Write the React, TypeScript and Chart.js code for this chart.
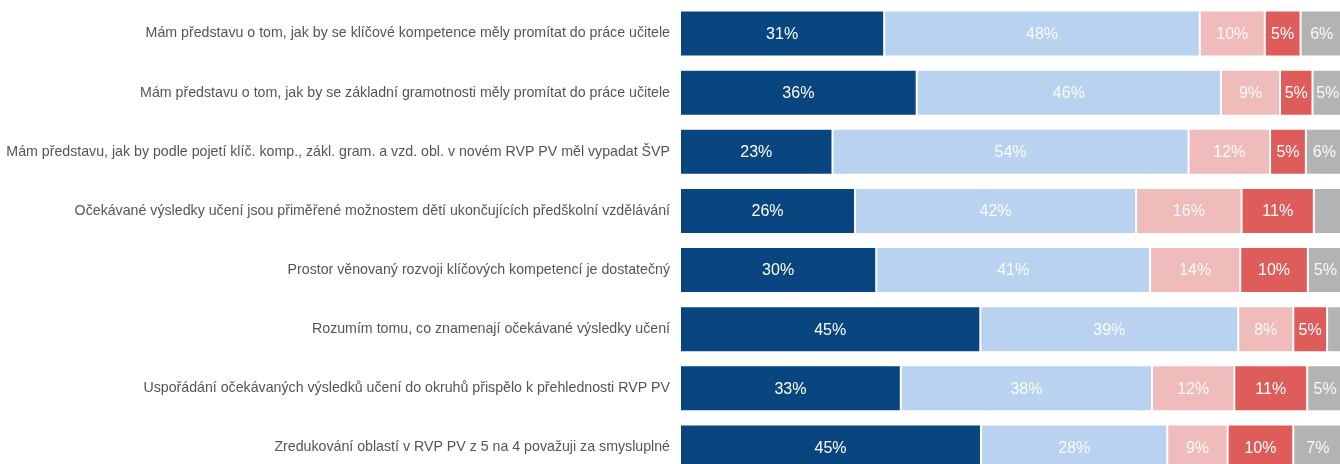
import React, { useEffect, useRef } from "react";
import { Chart, registerables } from "chart.js";

Chart.register(...registerables);

const categories = [
  "Mám představu o tom, jak by se klíčové kompetence měly promítat do práce učitele",
  "Mám představu o tom, jak by se základní gramotnosti měly promítat do práce učitele",
  "Mám představu, jak by podle pojetí klíč. komp., zákl. gram. a vzd. obl. v novém RVP PV měl vypadat ŠVP",
  "Očekávané výsledky učení jsou přiměřené možnostem dětí ukončujících předškolní vzdělávání",
  "Prostor věnovaný rozvoji klíčových kompetencí je dostatečný",
  "Rozumím tomu, co znamenají očekávané výsledky učení",
  "Uspořádání očekávaných výsledků učení do okruhů přispělo k přehlednosti RVP PV",
  "Zredukování oblastí v RVP PV z 5 na 4 považuji za smysluplné",
];

const series1 = [30.8, 35.7, 23.0, 26.4, 29.6, 45.3, 33.3, 45.4];
const series2 = [47.6, 45.9, 53.7, 42.4, 41.3, 38.9, 37.9, 28.1];
const series3 = [9.8, 8.9, 12.3, 15.9, 13.6, 8.3, 12.4, 9.1];
const series4 = [5.4, 4.9, 5.4, 10.9, 10.2, 5.1, 11.0, 9.9];
const series5 = [6.4, 4.6, 5.6, 4.4, 5.3, 2.4, 5.4, 7.4];

const seriesNames = ["Rozhodně ano", "Spíše ano", "Spíše ne", "Rozhodně ne", "Nevím"];
const seriesColors = ["#09467F", "#B8D2F0", "#F0BBBB", "#DE5D5A", "#B3B3B3"];

const labelPlugin = {
  id: "segLabels",
  afterDatasetsDraw(chart: any) {
    const ctx = chart.ctx;
    ctx.save();
    ctx.font = "16px 'Liberation Sans', Arial, sans-serif";
    ctx.textAlign = "center";
    ctx.textBaseline = "middle";
    chart.data.datasets.forEach((ds: any, di: number) => {
      const meta = chart.getDatasetMeta(di);
      meta.data.forEach((el: any, i: number) => {
        const v = ds.data[i];
        const r = Math.round(v);
        if (r < 5) return;
        const cx = (el.x + el.base) / 2;
        ctx.fillStyle = di === 0 || di === 3 ? "#ffffff" : "rgba(255,255,255,0.92)";
        ctx.fillText(r + "%", cx, el.y + 1);
      });
    });
    ctx.restore();
  },
};

export default function App() {
  const ref = useRef<HTMLCanvasElement | null>(null);
  useEffect(() => {
    if (!ref.current) return;
    const all = [series1, series2, series3, series4, series5];
    const chart = new Chart(ref.current, {
      type: "bar",
      data: {
        labels: categories,
        datasets: all.map((d, i) => ({
          label: seriesNames[i],
          data: d,
          backgroundColor: seriesColors[i],
          borderColor: "rgba(255,255,255,0.35)",
          borderWidth: 1,
          borderSkipped: false,
          barPercentage: 0.78,
          categoryPercentage: 1,
        })),
      },
      options: {
        indexAxis: "y",
        animation: false,
        responsive: false,
        layout: { padding: { top: 4, bottom: 0, left: 0, right: 0 } },
        plugins: {
          legend: { display: false },
          tooltip: { enabled: false },
        },
        scales: {
          x: {
            stacked: true,
            min: 0,
            max: 100,
            display: false,
          },
          y: {
            stacked: true,
            grid: { display: false, drawTicks: false },
            border: { display: false },
            ticks: {
              padding: 10,
              color: "#555555",
              font: { family: "'Liberation Sans', Arial, sans-serif", size: 14.2 },
            },
            afterFit: (s: any) => {
              s.width = 680;
              s.paddingTop = 0;
              s.paddingBottom = 0;
            },
          },
        },
      },
      plugins: [labelPlugin],
    } as any);
    return () => chart.destroy();
  }, []);
  return (
    <div
      style={{
        position: "fixed",
        top: 0,
        left: 0,
        width: 1340,
        height: 464,
        overflow: "hidden",
        background: "#ffffff",
      }}
    >
      <canvas ref={ref} width={1343} height={477} style={{ display: "block" }} />
    </div>
  );
}
